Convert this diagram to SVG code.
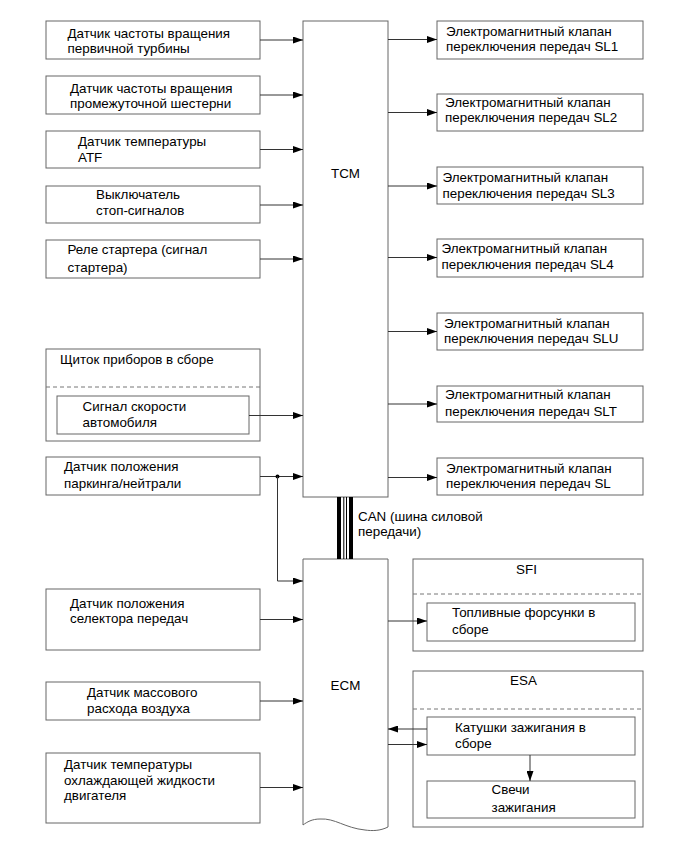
<svg xmlns="http://www.w3.org/2000/svg" width="691" height="855" viewBox="0 0 691 855">
<defs>
<marker id="ah" viewBox="0 0 10 7" refX="10" refY="3.5" markerWidth="10" markerHeight="7" markerUnits="userSpaceOnUse" orient="auto">
<path d="M0,0 L10,3.5 L0,7 Z" fill="#000"/>
</marker>
<style>
.b{fill:#fff;stroke:#666;stroke-width:1}
.d{fill:none;stroke:#777;stroke-width:1;stroke-dasharray:4,3}
.c{fill:none;stroke:#333;stroke-width:1;marker-end:url(#ah)}
.l{fill:none;stroke:#333;stroke-width:1}
text{font-family:"Liberation Sans",Arial,sans-serif;font-size:13.4px;fill:#000}
.m{text-anchor:middle}
</style>
</defs>
<rect width="691" height="855" fill="#fff"/>

<g id="tcm"><rect class="b" x="303" y="21" width="85" height="476"/><text class="m" x="345.5" y="178">TCM</text></g>
<g id="ecm"><path class="b" d="M303,559 H388 V827 C380,831 372,831 365,830 C345,828 335,818 320,819 C312,819 307,822 303,825 Z"/><text class="m" x="345.5" y="690">ECM</text></g>

<g id="can">
<rect x="337" y="497" width="4" height="62" fill="#000"/>
<rect x="343.3" y="497" width="1" height="62" fill="#000"/>
<rect x="346" y="497" width="1" height="62" fill="#000"/>
<rect x="349" y="497" width="4" height="62" fill="#000"/>
<text x="358" y="521">CAN (шина силовой</text><text x="358" y="536">передачи)</text>
</g>

<g id="in1"><rect class="b" x="46" y="21" width="214" height="38"/><text x="67.5" y="37.5">Датчик частоты вращения</text><text x="67.5" y="52.5">первичной турбины</text></g>
<g id="in2"><rect class="b" x="46" y="76" width="214" height="38"/><text x="70" y="93">Датчик частоты вращения</text><text x="70" y="107.5">промежуточной шестерни</text></g>
<g id="in3"><rect class="b" x="46" y="131" width="214" height="37"/><text x="78" y="145.5">Датчик температуры</text><text x="78" y="161.5">ATF</text></g>
<g id="in4"><rect class="b" x="46" y="186" width="214" height="37"/><text x="96" y="198.5">Выключатель</text><text x="96" y="215">стоп-сигналов</text></g>
<g id="in5"><rect class="b" x="46" y="240" width="214" height="38"/><text x="67.5" y="254">Реле стартера (сигнал</text><text x="67.5" y="271.5">стартера)</text></g>
<g id="in6"><rect class="b" x="46" y="349" width="214" height="92"/><text x="60" y="364">Щиток приборов в сборе</text><line class="d" x1="46" y1="387" x2="260" y2="387"/>
<rect class="b" x="57" y="396" width="192" height="38"/><text x="82.5" y="411">Сигнал скорости</text><text x="82.5" y="426.5">автомобиля</text></g>
<g id="in7"><rect class="b" x="46" y="457" width="214" height="38"/><text x="64" y="471">Датчик положения</text><text x="64" y="487.5">паркинга/нейтрали</text></g>
<g id="in8"><rect class="b" x="46" y="589" width="214" height="61"/><text x="70" y="607.5">Датчик положения</text><text x="70" y="623">селектора передач</text></g>
<g id="in9"><rect class="b" x="46" y="682" width="214" height="38"/><text x="87" y="697">Датчик массового</text><text x="87" y="713">расхода воздуха</text></g>
<g id="in10"><rect class="b" x="46" y="753" width="214" height="70"/><text x="64" y="769">Датчик температуры</text><text x="64" y="784.5">охлаждающей жидкости</text><text x="64" y="800">двигателя</text></g>

<g id="sl1"><rect class="b" x="437" y="21" width="206" height="38"/><text x="446" y="35.5">Электромагнитный клапан</text><text x="446" y="51">переключения передач SL1</text></g>
<g id="sl2"><rect class="b" x="437" y="94" width="206" height="37"/><text x="445" y="107">Электромагнитный клапан</text><text x="445" y="122">переключения передач SL2</text></g>
<g id="sl3"><rect class="b" x="437" y="167" width="206" height="37"/><text x="442.5" y="181.5">Электромагнитный клапан</text><text x="442.5" y="197.5">переключения передач SL3</text></g>
<g id="sl4"><rect class="b" x="437" y="239" width="206" height="38"/><text x="441.5" y="253">Электромагнитный клапан</text><text x="441.5" y="269">переключения передач SL4</text></g>
<g id="slu"><rect class="b" x="437" y="313" width="206" height="37"/><text x="444" y="327.5">Электромагнитный клапан</text><text x="444" y="342.5">переключения передач SLU</text></g>
<g id="slt"><rect class="b" x="437" y="386" width="206" height="36"/><text x="445" y="399">Электромагнитный клапан</text><text x="445" y="415.5">переключения передач SLT</text></g>
<g id="sl"><rect class="b" x="437" y="458" width="206" height="37"/><text x="446" y="473">Электромагнитный клапан</text><text x="446" y="488">переключения передач SL</text></g>

<g id="sfi"><rect class="b" x="413" y="559" width="230" height="92"/><text class="m" x="526.5" y="574">SFI</text><line class="d" x1="413" y1="594" x2="643" y2="594"/>
<rect class="b" x="427" y="603" width="208" height="38"/><text x="452" y="617">Топливные форсунки в</text><text x="452" y="634">сборе</text></g>
<g id="esa"><rect class="b" x="413" y="671" width="230" height="156"/><text class="m" x="523.5" y="685">ESA</text><line class="d" x1="413" y1="709" x2="643" y2="709"/></g>
<g id="coil"><rect class="b" x="427" y="717" width="208" height="38"/><text x="455" y="732">Катушки зажигания в</text><text x="455" y="747.5">сборе</text></g>
<g id="plug"><rect class="b" x="427" y="781" width="208" height="37"/><text x="491.5" y="794">Свечи</text><text x="491.5" y="811.5">зажигания</text></g>

<g id="connectors">
<line class="c" x1="260" y1="40" x2="303" y2="40"/>
<line class="c" x1="260" y1="95" x2="303" y2="95"/>
<line class="c" x1="260" y1="149.5" x2="303" y2="149.5"/>
<line class="c" x1="260" y1="205" x2="303" y2="205"/>
<line class="c" x1="260" y1="259" x2="303" y2="259"/>
<line class="c" x1="249" y1="415.5" x2="303" y2="415.5"/>
<line class="c" x1="260" y1="476.5" x2="303" y2="476.5"/>
<circle cx="277.5" cy="476.5" r="2" fill="#000"/>
<polyline class="c" points="277.5,476.5 277.5,581 303,581"/>
<line class="c" x1="260" y1="619.5" x2="303" y2="619.5"/>
<line class="c" x1="260" y1="701" x2="303" y2="701"/>
<line class="c" x1="260" y1="787.5" x2="303" y2="787.5"/>
<line class="c" x1="388" y1="39.5" x2="437" y2="39.5"/>
<line class="c" x1="388" y1="112.5" x2="437" y2="112.5"/>
<line class="c" x1="388" y1="186" x2="437" y2="186"/>
<line class="c" x1="388" y1="257.5" x2="437" y2="257.5"/>
<line class="c" x1="388" y1="331.5" x2="437" y2="331.5"/>
<line class="c" x1="388" y1="404" x2="437" y2="404"/>
<line class="c" x1="388" y1="477.5" x2="437" y2="477.5"/>
<line class="c" x1="388" y1="621" x2="427" y2="621"/>
<line class="c" x1="427" y1="729" x2="388" y2="729"/>
<line class="c" x1="388" y1="744.5" x2="427" y2="744.5"/>
<line class="c" x1="530" y1="755" x2="530" y2="781"/>
</g>
</svg>
